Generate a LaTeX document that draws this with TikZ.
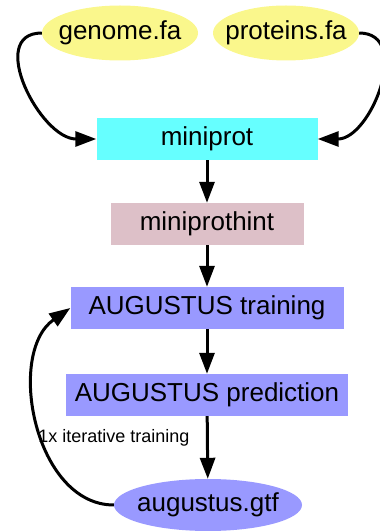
\documentclass[tikz,border=0pt]{standalone}
\usepackage{fontspec}
\setmainfont{Liberation Sans}
\usetikzlibrary{shapes.geometric,arrows.meta}

\definecolor{fileyellow}{RGB}{250,247,140}
\definecolor{mpcyan}{RGB}{102,255,255}
\definecolor{hintpink}{RGB}{221,192,200}
\definecolor{augblue}{RGB}{153,153,255}

\tikzset{
  infile/.style={ellipse, fill=fileyellow, inner sep=0pt, minimum height=55pt},
  outfile/.style={ellipse, fill=augblue, inner sep=0pt, minimum height=52pt},
  tool/.style={rectangle, inner sep=0pt, minimum height=42pt},
  flow/.style={line width=3pt, -{Triangle[length=21pt,width=15pt]}},
}

\begin{document}
\begin{tikzpicture}[x=1pt,y=1pt,font=\fontsize{26}{30}\selectfont]

    \useasboundingbox (0,0) rectangle (380,531);

    % Input files
    \node[infile, minimum width=156pt] (genome) at (120,498) {\makebox[0pt]{genome.fa}};
    \node[infile, minimum width=146pt] (proteins) at (286,498) {\makebox[0pt]{proteins.fa}};

    % Pipeline steps
    \node[tool, fill=mpcyan, minimum width=221pt] (miniprot) at (207,392) {miniprot};
    \node[tool, fill=hintpink, minimum width=193pt] (hint) at (207,307) {miniprothint};
    \node[tool, fill=augblue, minimum width=273pt] (train) at (207,223) {AUGUSTUS training};
    \node[tool, fill=augblue, minimum width=282pt] (predict) at (207,136) {AUGUSTUS prediction};

    % Output
    \node[outfile, minimum width=188pt] (gtf) at (208,26) {\makebox[0pt]{augustus.gtf}};

    \draw[flow] (genome.west) to[out=180,in=180,looseness=1.2] (miniprot.west);
    \draw[flow] (proteins.east) to[out=0,in=0,looseness=1.2] (miniprot.east);
    \draw[flow] (miniprot) -- (hint);
    \draw[flow] (hint) -- (train);
    \draw[flow] (train) -- (predict);
    \draw[flow] (predict) -- (gtf);

    % Loop back for training
    \draw[flow] (gtf.west) to[out=180,in=215,looseness=1.0] (train.west);
    \node[font=\fontsize{18}{22}\selectfont] (iter) at (114,93) {1x iterative training};

\end{tikzpicture}
\end{document}
